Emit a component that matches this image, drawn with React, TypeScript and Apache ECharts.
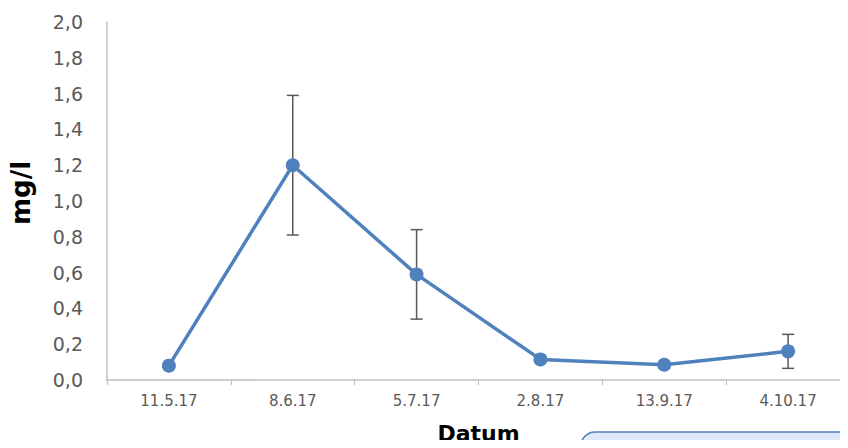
import React, { useEffect, useRef } from "react";
import * as echarts from "echarts";

const categories = ["11.5.17", "8.6.17", "5.7.17", "2.8.17", "13.9.17", "4.10.17"];
const values = [0.08, 1.2, 0.59, 0.115, 0.085, 0.16];
const errors = [0.01, 0.39, 0.25, 0.015, 0.015, 0.095];
const yTicks = { min: 0, max: 2, interval: 0.2 };

export default function App() {
  const ref = useRef<HTMLDivElement>(null);
  useEffect(() => {
    const chart = echarts.init(ref.current!, null, { renderer: "svg" });
    const errData = values.map((v, i) => [i, v - errors[i], v + errors[i]]);
    chart.setOption({
      animation: false,
      backgroundColor: "#ffffff",
      grid: { left: 107, right: -2, top: 22, bottom: 68, outerBoundsMode: "none", containLabel: false },
      xAxis: {
        type: "category",
        data: categories,
        boundaryGap: true,
        name: "Datum",
        nameLocation: "middle",
        nameGap: 42,
        nameTextStyle: { fontFamily: "DejaVu Sans", fontWeight: "bold", fontSize: 22, color: "#000" },
        axisLine: { lineStyle: { color: "#bfbfbf", width: 1.5 } },
        axisTick: { show: true, length: 5, lineStyle: { color: "#bfbfbf" } },
        axisLabel: { fontFamily: "DejaVu Sans", fontSize: 15, color: "#595959", margin: 13 },
        splitLine: { show: false },
      },
      yAxis: {
        type: "value",
        min: yTicks.min,
        max: yTicks.max,
        interval: yTicks.interval,
        name: "mg/l",
        nameLocation: "middle",
        nameRotate: 90,
        nameGap: 73,
        nameTextStyle: { fontFamily: "DejaVu Sans", fontWeight: "bold", fontSize: 26, color: "#000", padding: [0, 0, 0, 16] },
        axisLine: { show: true, lineStyle: { color: "#bfbfbf", width: 1.5 } },
        axisTick: { show: false },
        splitLine: { show: false },
        axisLabel: {
          fontFamily: "DejaVu Sans",
          fontSize: 19,
          color: "#595959",
          margin: 24,
          formatter: (v: number) => v.toFixed(1).replace(".", ","),
        },
      },
      series: [
        {
          type: "custom",
          data: errData,
          z: 1,
          renderItem: (params: any, api: any) => {
            const x = api.coord([api.value(0), 0])[0];
            const lo = api.coord([api.value(0), api.value(1)])[1];
            const hi = api.coord([api.value(0), api.value(2)])[1];
            const w = 6;
            const style = { stroke: "#595959", lineWidth: 1.5 };
            return {
              type: "group",
              children: [
                { type: "line", shape: { x1: x, y1: lo, x2: x, y2: hi }, style },
                { type: "line", shape: { x1: x - w, y1: lo, x2: x + w, y2: lo }, style },
                { type: "line", shape: { x1: x - w, y1: hi, x2: x + w, y2: hi }, style },
              ],
            };
          },
        },
        {
          type: "line",
          data: values,
          z: 3,
          symbol: "circle",
          symbolSize: 14,
          lineStyle: { color: "#4f81bd", width: 3.5 },
          itemStyle: { color: "#4f81bd" },
        },
      ],
      graphic: [
        {
          type: "rect",
          shape: { x: 581, y: 432, width: 320, height: 60, r: 14 },
          style: { fill: "#dfe9fb", stroke: "#4f81bd", lineWidth: 1.5 },
        },
      ],
    });
    return () => chart.dispose();
  }, []);
  return <div ref={ref} style={{ width: 848, height: 448, margin: -8 }} />;
}
